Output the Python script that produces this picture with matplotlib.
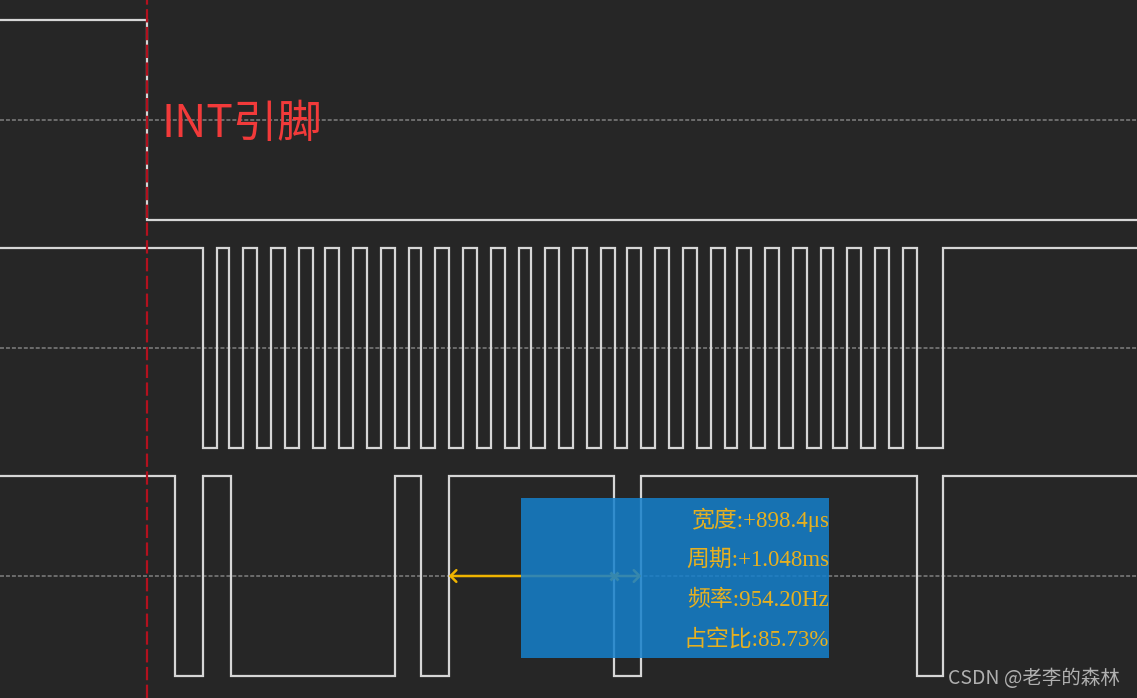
from __future__ import annotations

# Se importa matplotlib para dibujar las señales del analizador lógico.
import matplotlib.pyplot as plt
from matplotlib.patches import Rectangle
import numpy as np

# Duración visible de la captura, en microsegundos.
view_us = 6186

# Flancos de cada canal (µs). Todos los canales empiezan en nivel alto.
int_edges = [800]
clk_edges = [
    1103, 1179, 1248, 1321, 1400, 1473, 1552, 1625, 1705, 1767,
    1846, 1919, 1995, 2071, 2151, 2224, 2292, 2365, 2445, 2518,
    2597, 2670, 2749, 2822, 2891, 2964, 3043, 3118, 3192, 3268,
    3345, 3410, 3486, 3566, 3638, 3718, 3791, 3867, 3943, 4008,
    4085, 4161, 4237, 4313, 4389, 4465, 4534, 4610, 4686, 4763,
    4839, 4915, 4991, 5133,
]
data_edges = [950, 1103, 1255, 2148, 2289, 2441.4, 3339.8, 3489.4, 4991, 5129]
channel_edges = [int_edges, clk_edges, data_edges]

# Texto de la marca sobre el pin de interrupción.
int_label = "INT引脚"
watermark = "CSDN @老李的森林"

# Colores del tema oscuro.
BG = "#262626"
WAVE = "#d6d6d6"
GRID = "#808080"
CURSOR = "#b3111e"
MEASURE = "#f0b400"

# Centros verticales de los canales (píxeles) y semiamplitud.
centers = [120, 348, 576]
half = 100


# Esta función convierte una lista de flancos en coordenadas escalonadas.
def square_wave(edges: list[float], center: float) -> tuple[np.ndarray, np.ndarray]:
    xs = [0.0]
    ys = [center - half]
    level_high = True
    for edge in edges:
        xs += [edge, edge]
        ys += [ys[-1], center + half if level_high else center - half]
        level_high = not level_high
    xs.append(view_us)
    ys.append(ys[-1])
    return np.array(xs), np.array(ys)


fig = plt.figure(figsize=(11.37, 6.98), dpi=100, facecolor=BG)
ax = fig.add_axes([0, 0, 1, 1])
ax.set_facecolor(BG)
ax.set_xlim(0, view_us)
ax.set_ylim(698, 0)
ax.axis("off")

# Se dibujan las líneas de referencia discontinuas de cada canal.
for center in centers:
    ax.axhline(center, color=GRID, lw=1.1, linestyle=(0, (2.6, 1.3)), zorder=1)

# Se dibujan las tres señales digitales.
for edges, center in zip(channel_edges, centers):
    xs, ys = square_wave(edges, center)
    ax.plot(xs, ys, color=WAVE, lw=1.6, solid_joinstyle="miter", zorder=2)

# Medida del canal inferior: ancho, periodo, frecuencia y ciclo de trabajo.
rise, fall, next_rise = data_edges[5], data_edges[6], data_edges[7]
width_us = fall - rise
period_us = next_rise - rise
freq_hz = 1e6 / period_us
duty = width_us / period_us * 100
measure_lines = [
    f"宽度:+{width_us:.1f}μs",
    f"周期:+{period_us / 1000:.3f}ms",
    f"频率:{freq_hz:.2f}Hz",
    f"占空比:{duty:.2f}%",
]

y_meas = centers[2]
ax.annotate(
    "",
    xy=(rise, y_meas),
    xytext=(next_rise, y_meas),
    arrowprops=dict(arrowstyle="<->,head_length=0.3,head_width=0.3", color=MEASURE,
                    lw=1.8, shrinkA=0, shrinkB=0, mutation_scale=14),
    zorder=3,
)
ax.plot(fall, y_meas, marker="x", ms=6, mew=2, color=MEASURE, zorder=3)

# Se añade el recuadro azul semitransparente con los resultados.
box_left, box_right = 2835, 4511
ax.add_patch(Rectangle((box_left, 498), box_right - box_left, 160,
                       facecolor="#1580cc", alpha=0.85, edgecolor="none", zorder=4))
for i, line in enumerate(measure_lines):
    ax.text(box_right, 520 + 40 * i, line, ha="right", va="center", fontsize=16.5,
            color="#e6b020", family=["Liberation Serif", "Noto Sans CJK SC"], zorder=5)

# Se dibuja el cursor rojo en el flanco de bajada de INT.
ax.axvline(int_edges[0], color=CURSOR, lw=1.6, linestyle=(0, (6, 2)), zorder=6)
ax.text(880, 137, int_label, ha="left", va="baseline", fontsize=32, color="#f23a3a",
        family=["Noto Sans CJK SC", "DejaVu Sans"], zorder=6)

# Marca de agua en la esquina inferior derecha.
fig.text(1120 / 1137, 1 - 678 / 698, watermark, ha="right", va="center", fontsize=14,
         color="#b0b0b0", family=["Noto Sans CJK SC", "DejaVu Sans"])

fig.savefig("out.png", dpi=100, facecolor=BG)
plt.close(fig)
